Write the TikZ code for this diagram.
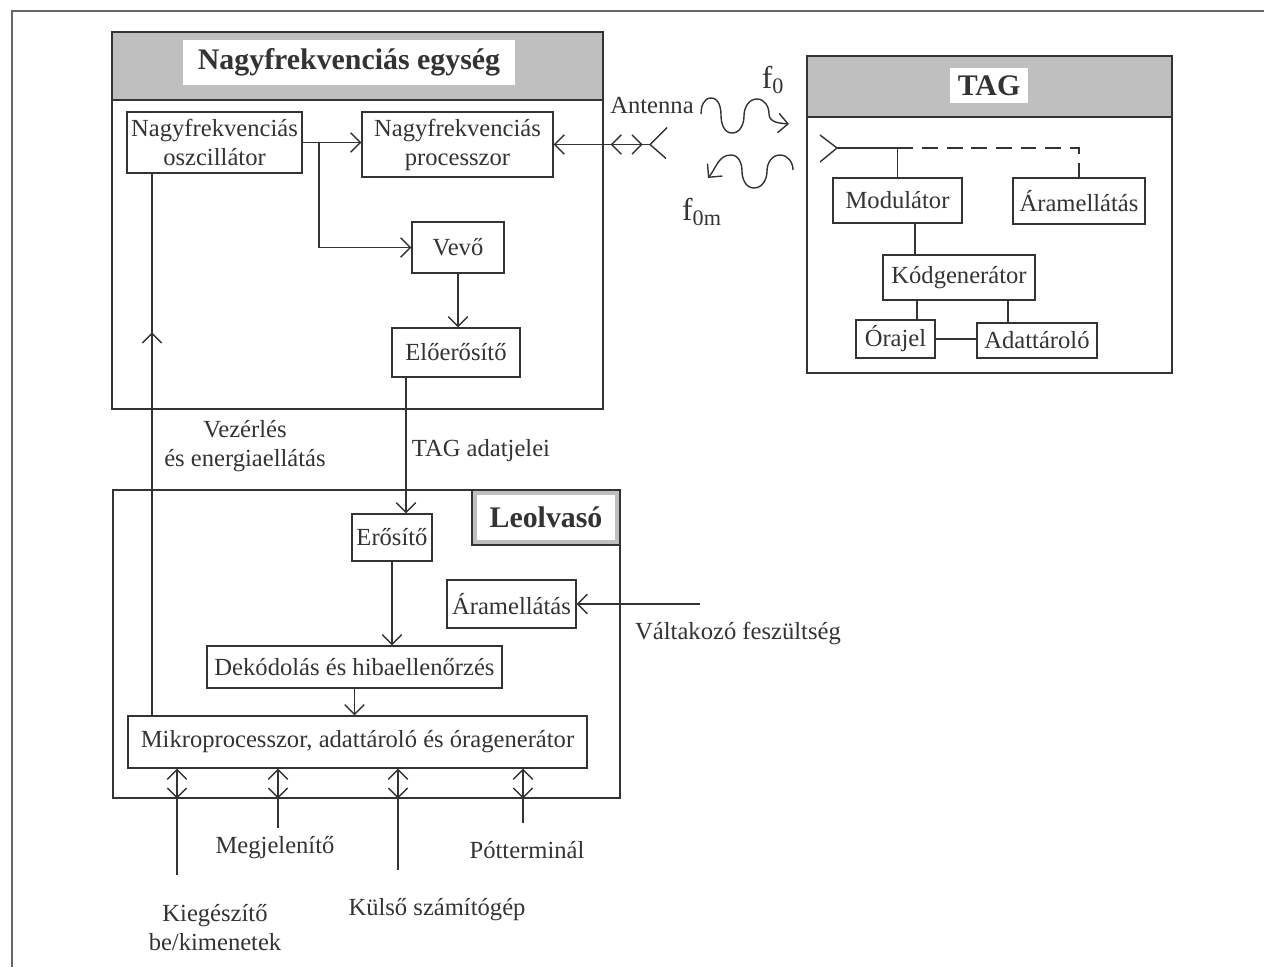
\documentclass[tikz,border=0pt]{standalone}
\usepackage{fontspec}
\setmainfont{Liberation Serif}
\usetikzlibrary{arrows.meta, calc}
\usetikzlibrary{decorations.markings}
\newcommand\pxu{0.02cm}

\begin{document}
\begin{tikzpicture}[x=0.02cm, y=-0.02cm, line width=0.8pt, color=black!80,
    font=\fontsize{14}{16.5}\selectfont,
    >={Straight Barb[length=5.5pt,width=11pt]},
    bx/.style 2 args={draw, minimum width=#1*\pxu, minimum height=#2*\pxu,
      inner sep=1pt, align=center},
    ttl/.style 2 args={fill=white, minimum width=#1*\pxu, minimum height=#2*\pxu,
      inner sep=1pt, font=\fontsize{17}{20}\selectfont\bfseries},
    hdr/.style={fill=black!25},
    midtip/.style={postaction={decorate}, decoration={markings,
      mark=at position #1 with {\arrow{>}}}},
    bidi/.style={<-, postaction={decorate}, decoration={markings,
      mark=at position 0.6cm with {\arrow{>}}}},
    fnt/.style={font=\fontsize{18}{20}\selectfont}]
  \useasboundingbox (0,0) rectangle (1264,967);
  \draw[line width=1.2pt, black!60] (12,967) -- (12,11) -- (1264,11);

  % Nagyfrekvenciás egység
  \fill[hdr] (112,32) rectangle (603,100);
  \draw (112,32) rectangle (603,409);
  \draw (112,100) -- (603,100);
  \node[ttl={332}{45}] (nfttl) at (349,62.5) {Nagyfrekvenciás egység};

  \node[bx={175}{61}] (osc) at (214.5,142.5) {Nagyfrekvenciás\\oszcillátor};
  \node[bx={191}{65}] (proc) at (457.5,144.5) {Nagyfrekvenciás\\processzor};
  \node[bx={92}{51}] (vevo) at (458,247.5) {Vevő};
  \node[bx={128}{49}] (eloer) at (456,352.5) {Előerősítő};

  \draw[->] (osc.east) -- (proc.west |- osc.east);
  \draw[->] (osc.east -| 319,0) |- (vevo.west);
  \draw[->] (vevo.south) -- (vevo.south |- eloer.north);

  % antenna
  \coordinate (nant) at (650,144.5);
  \draw (nant) -- +(17,-17) (nant) -- +(16,14);
  \draw[<-, postaction={decorate}, decoration={markings,
      mark=at position 1.14cm with {\arrowreversed{>}},
      mark=at position 1.78cm with {\arrow{>}}}] (proc.east) -- (nant);
  \node (ant) at (652,105) {Antenna};

  % waves
  \draw[->] (701,114) to[out=90,in=180] (711,98) to[out=0,in=90] (721,115)
    to[out=-90,in=180] (732,133) to[out=0,in=-90] (744,116)
    to[out=90,in=180] (757,99) to[out=0,in=90] (769,114)
    to[out=-90,in=175] (789,124);
  \draw[->] (793,170) to[out=90,in=0] (780,155) to[out=180,in=90] (767,171)
    to[out=-90,in=0] (754,188) to[out=180,in=-90] (742,171)
    to[out=90,in=0] (731,155) to[out=180,in=50] (708,178);
  \node[fnt] (f0) at (773,80) {f\textsubscript{0}};
  \node[fnt] (f0m) at (702,212) {f\textsubscript{0m}};

  % TAG
  \fill[hdr] (807,56) rectangle (1172,117);
  \draw (807,56) rectangle (1172,373);
  \draw (807,117) -- (1172,117);
  \node[ttl={78}{35}] (tagttl) at (989,85.5) {TAG};

  \node[bx={129}{45}] (modul) at (897.5,200.5) {Modulátor};
  \node[bx={132}{46}] (taram) at (1079,201) {Áramellátás};
  \node[bx={152}{45}] (kodgen) at (959,277.5) {Kódgenerátor};
  \node[bx={79}{38}] (orajel) at (895.5,339) {Órajel};
  \node[bx={120}{35}] (adatt) at (1037,340.5) {Adattároló};

  \coordinate (tant) at (837,148);
  \draw (tant) -- +(-17,-13) (tant) -- +(-17,14);
  \draw (tant) -- (modul.north |- tant) -- (modul.north);
  \draw[dash pattern=on 9pt off 5pt] (modul.north |- tant) -| (taram.north);
  \draw (modul.south -| 915,0) -- (kodgen.north -| 915,0);
  \draw (kodgen.south -| 917,0) -- (orajel.north -| 917,0);
  \draw (kodgen.south -| 1008,0) -- (adatt.north -| 1008,0);
  \draw (orajel.east) -- (adatt.west |- orajel.east);

  % Leolvasó
  \draw (113,490) rectangle (620,798);
  \fill[hdr] (472,490) rectangle (620,545);
  \node[ttl={138}{45}] (lttl) at (546,517.5) {Leolvasó};
  \draw (472,490) rectangle (620,545);

  \node[bx={80}{47}] (erosito) at (392,537.5) {Erősítő};
  \node[bx={129}{48}] (raram) at (511.5,604) {Áramellátás};
  \node[bx={295}{42}] (dekod) at (354.5,667) {Dekódolás és hibaellenőrzés};
  \node[bx={459}{52}] (mikro) at (357.5,742) {Mikroprocesszor, adattároló és óragenerátor};

  \draw[->] (eloer.south -| 406,0) -- (erosito.north -| 406,0);
  \draw[->] (erosito.south) -- (erosito.south |- dekod.north);
  \draw[->] (dekod.south) -- (dekod.south |- mikro.north);
  \draw[midtip=7.66cm] (mikro.north -| 152,0) -- (osc.south -| 152,0);

  \node[align=center] (vez) at (245,446) {Vezérlés\\és energiaellátás};
  \node (tagad) at (481,451) {TAG adatjelei};

  \coordinate (vin) at (700,604);
  \draw[->] (vin) -- (raram.east);
  \node (valt) at (738,633) {Váltakozó feszültség};

  % kimenetek
  \coordinate (b1) at (177,875);
  \coordinate (b2) at (278,828);
  \coordinate (b3) at (398,870);
  \coordinate (b4) at (523,823);
  \foreach \b in {b1,b2,b3,b4}
    \draw[bidi] (mikro.south -| \b) -- (\b);

  \node (megj) at (275,848) {Megjelenítő};
  \node (pott) at (527,850) {Pótterminál};
  \node[align=center] (kieg) at (215,928) {Kiegészítő\\be/kimenetek};
  \node (kulso) at (437,910) {Külső számítógép};
\end{tikzpicture}
\end{document}
